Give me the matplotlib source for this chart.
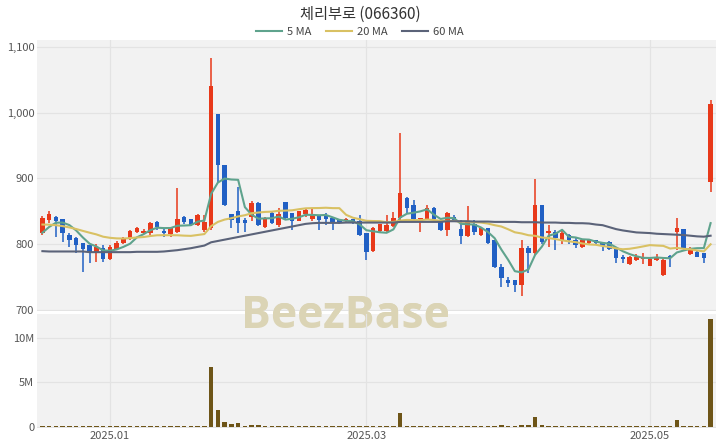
import matplotlib.pyplot as plt
from matplotlib.lines import Line2D
import numpy as np
import pandas as pd

plt.rcParams['font.family'] = ['Noto Sans CJK KR', 'DejaVu Sans']

# KRX trading days shown on the chart
holidays = ['2024-12-25', '2024-12-31', '2025-01-01', '2025-01-27', '2025-01-28',
            '2025-01-29', '2025-01-30', '2025-03-03', '2025-05-01', '2025-05-05',
            '2025-05-06']
days = pd.bdate_range('2024-12-16', '2025-05-19', freq='C', holidays=holidays)

opens = [816.7, 836.9, 842, 838, 813.6, 809, 801.4, 798.9, 787.3, 793.8,
         777, 792.3, 801.4, 807.5, 818.2, 816.7, 816.7, 833.5, 820.6, 815.6,
         819, 842, 838.4, 829.3, 821.7, 824.3, 998, 920.5, 846, 851,
         837, 842, 862, 826.7, 848, 829.3, 864.7, 847, 835.9, 846,
         838, 844.5, 843, 840.5, 837, 835, 838, 835, 816.7, 789.7,
         820, 820, 827.7, 839.5, 871, 859.7, 838, 838, 855, 836,
         821.7, 842, 822.7, 812, 831, 814, 824, 806.5, 766, 745.6,
         745.6, 738, 793.8, 786.2, 859.7, 816.7, 819, 806.5, 814, 806.5,
         795.4, 802.4, 806.5, 801.4, 804, 792.3, 781, 770, 776, 777,
         767, 776, 753, 782, 819, 822.7, 785, 788.7, 786, 895]
highs = [843, 851, 843, 838.5, 816.6, 811.5, 802, 799.5, 801, 798.9,
         798.9, 804.9, 811.5, 822, 826, 823, 834, 835.6, 825, 826,
         885, 842.5, 839, 846, 844, 1083, 998, 921, 846.5, 887.5,
         839.5, 865.8, 864.7, 841, 849.5, 854.7, 865, 847.5, 851, 853.8,
         855, 845, 848, 841, 838, 840, 839, 844.5, 817, 826,
         831, 844.5, 849.5, 968.7, 872.5, 867.5, 840, 860, 857, 837,
         849.5, 845, 836.5, 858, 837, 826, 825, 807, 769.5, 749.7,
         746, 806.5, 797.3, 898.8, 860, 829.3, 821.7, 820.6, 816, 809,
         807, 807, 807, 802, 804.5, 793, 783.6, 782.6, 785, 786,
         781, 785, 777, 783.6, 839.5, 823, 796, 789, 787, 1020]
lows = [814, 832.8, 811, 804, 796, 786, 758, 771, 773.5, 773.5,
        776, 791, 800, 806, 817, 815, 814, 822, 811, 811,
        816.7, 831, 827, 828, 818, 822, 895, 858, 824, 816.7,
        819, 836, 827.7, 825, 831, 826.7, 838, 821.7, 835, 842,
        835, 821.7, 829, 821.7, 831, 834, 831, 813, 776, 788,
        819, 819, 826, 837, 847, 837, 819, 837, 837, 820,
        812, 834, 800.5, 810.5, 814, 813, 800, 764, 734.5, 734.5,
        727.8, 721.3, 756.7, 783.6, 801, 796.3, 791, 800, 801, 794,
        794, 800, 800, 790, 791, 771, 771, 768, 774, 770,
        767, 775, 752, 766, 792, 790, 784, 780, 771, 880]
closes = [839.5, 846, 836, 817.6, 806.5, 798.9, 792.3, 788.7, 796.3, 777,
          796.3, 802.4, 808, 820.6, 825.2, 820.6, 832.8, 826.7, 817.6, 825.7,
          838, 834.4, 829.3, 844.5, 834.3, 1040.7, 920.5, 859.7, 837, 832,
          833, 863, 829.3, 839.5, 833, 846, 839.5, 835.9, 850.6, 852,
          845, 837, 838, 832.8, 833, 838, 833, 814, 788.7, 825,
          830.3, 829.3, 839.5, 878.4, 854.7, 838, 839.5, 855, 838, 821.7,
          847.5, 836, 812, 835, 819, 825, 802.4, 765, 748.2, 741.5,
          738, 793.8, 786.2, 859.7, 804, 820.6, 809, 816.7, 806.5, 798.9,
          806.5, 806.5, 801.4, 797.3, 792.3, 778.6, 777, 780, 781, 780,
          777.6, 781, 776, 779, 824, 792.3, 793.8, 781, 779.6, 1014]
# volume in millions of shares
volumes_m = [0.02, 0.02, 0.02, 0.02, 0.02, 0.02, 0.02, 0.02, 0.02, 0.02,
             0.02, 0.02, 0.02, 0.02, 0.02, 0.02, 0.02, 0.02, 0.02, 0.02,
             0.03, 0.02, 0.02, 0.02, 0.03, 6.74, 1.88, 0.56, 0.33, 0.45,
             0.12, 0.22, 0.15, 0.05, 0.04, 0.04, 0.04, 0.04, 0.04, 0.04,
             0.08, 0.08, 0.04, 0.04, 0.04, 0.04, 0.04, 0.04, 0.09, 0.04,
             0.04, 0.04, 0.04, 1.5, 0.12, 0.04, 0.04, 0.04, 0.04, 0.04,
             0.04, 0.04, 0.04, 0.04, 0.04, 0.04, 0.04, 0.05, 0.17, 0.06,
             0.06, 0.17, 0.15, 1.12, 0.15, 0.05, 0.05, 0.05, 0.05, 0.05,
             0.05, 0.05, 0.05, 0.05, 0.05, 0.05, 0.05, 0.05, 0.05, 0.05,
             0.05, 0.05, 0.05, 0.05, 0.75, 0.12, 0.05, 0.05, 0.05, 12.07]
# closes before the window, needed for the 5/20 day averages
prev_closes = [850, 852, 845, 848, 846, 850, 844, 848, 846.5, 830,
               820, 812, 808, 806, 807, 802, 804, 816, 826]
ma60 = [789.5, 789, 789, 789, 789, 789, 789, 788, 788, 788,
        788, 788, 788, 788, 788.5, 788.5, 788.5, 788.5, 789, 790,
        791, 792.5, 794, 796, 798, 803, 805, 807, 809, 811,
        813, 815, 817, 819, 821, 823, 825, 827, 829, 831,
        832, 832.5, 832.5, 832.5, 832.5, 833, 833, 833, 833, 833,
        833, 833, 833, 834, 834, 834, 834, 834, 834, 834,
        835, 835, 835, 835, 834.5, 834.5, 834.5, 834, 834, 834,
        834, 833.5, 833.5, 833.5, 833, 833, 833, 832.5, 832.5, 832,
        832, 831.5, 830, 829, 826, 823, 821, 819.5, 818, 817.5,
        817, 816, 815.5, 815, 814.5, 814, 813, 812, 811.5, 813]

x = np.arange(len(days))
o = np.array(opens)
h = np.array(highs)
l = np.array(lows)
c = np.array(closes)
up = c >= o

allc = pd.Series(prev_closes + closes)
ma5 = allc.rolling(5).mean().to_numpy()[len(prev_closes):]
ma20 = allc.rolling(20).mean().to_numpy()[len(prev_closes):]

fig = plt.figure(figsize=(7.2, 4.48), dpi=100)
ax = fig.add_axes([37 / 720, 1 - 311 / 448, 679 / 720, 271 / 448])
axv = fig.add_axes([37 / 720, 1 - 428 / 448, 679 / 720, 114.5 / 448])

tick_idx = [i for i in range(1, len(days)) if days[i].month != days[i - 1].month and days[i].month % 2 == 1]
tick_lab = [days[i].strftime('%Y.%m') for i in tick_idx]

for a in (ax, axv):
    a.set_facecolor('#f2f2f2')
    for s in a.spines.values():
        s.set_visible(False)
    a.grid(True, color='#e3e3e3', lw=0.9)
    a.set_axisbelow(True)
    a.tick_params(length=0, labelsize=8, colors='#555555', pad=2)
    a.set_xlim(-0.8, 99.8)
    a.set_xticks(tick_idx)
    # watermark, clipped to each pane so the gap stays white
    t = a.text(345 / 720, 1 - 328 / 448, 'BeezBase', transform=fig.transFigure,
               ha='center', va='baseline', fontsize=32, fontweight='bold',
               family='Open Sans', color='#dbd4b5', zorder=0.5)
    t.set_clip_box(a.bbox)

red = '#e8391a'
blue = '#2160c4'
cols = np.where(up, red, blue)
ax.vlines(x, l, h, colors=cols, lw=1.1, zorder=2)
body = np.maximum(np.abs(c - o), 1.0)
ax.bar(x, body, bottom=np.minimum(o, c), width=0.64, color=cols, zorder=2)

ax.plot(x, ma5, color='#5fa38d', lw=1.5, zorder=3)
ax.plot(x, ma20, color='#d9c163', lw=1.5, zorder=3)
ax.plot(x, ma60, color='#5b6379', lw=1.5, zorder=3)

ax.set_ylim(698.5, 1110.6)
ax.set_yticks([700, 800, 900, 1000, 1100])
ax.set_yticklabels(['700', '800', '900', '1,000', '1,100'])
ax.set_xticklabels([])

axv.bar(x, np.array(volumes_m) * 1e6, width=0.64, color='#6e5518', zorder=2)
axv.set_ylim(-0.15e6, 12.7e6)
axv.set_yticks([0, 5e6, 10e6])
axv.set_yticklabels(['0', '5M', '10M'])
axv.set_xticklabels(tick_lab)

fig.text(0.5, 1 - 14 / 448, '체리부로 (066360)', ha='center', va='center',
         fontsize=11, color='#333333')
handles = [Line2D([], [], color='#5fa38d', lw=1.5),
           Line2D([], [], color='#d9c163', lw=1.5),
           Line2D([], [], color='#5b6379', lw=1.5)]
fig.legend(handles, ['5 MA', '20 MA', '60 MA'], loc='center',
           bbox_to_anchor=(0.5, 1 - 32 / 448), ncol=3, frameon=False,
           fontsize=8, handlelength=2.3, columnspacing=1.3, handletextpad=0.5,
           labelcolor='#444444')

fig.savefig('out.png', dpi=100, facecolor='white')
